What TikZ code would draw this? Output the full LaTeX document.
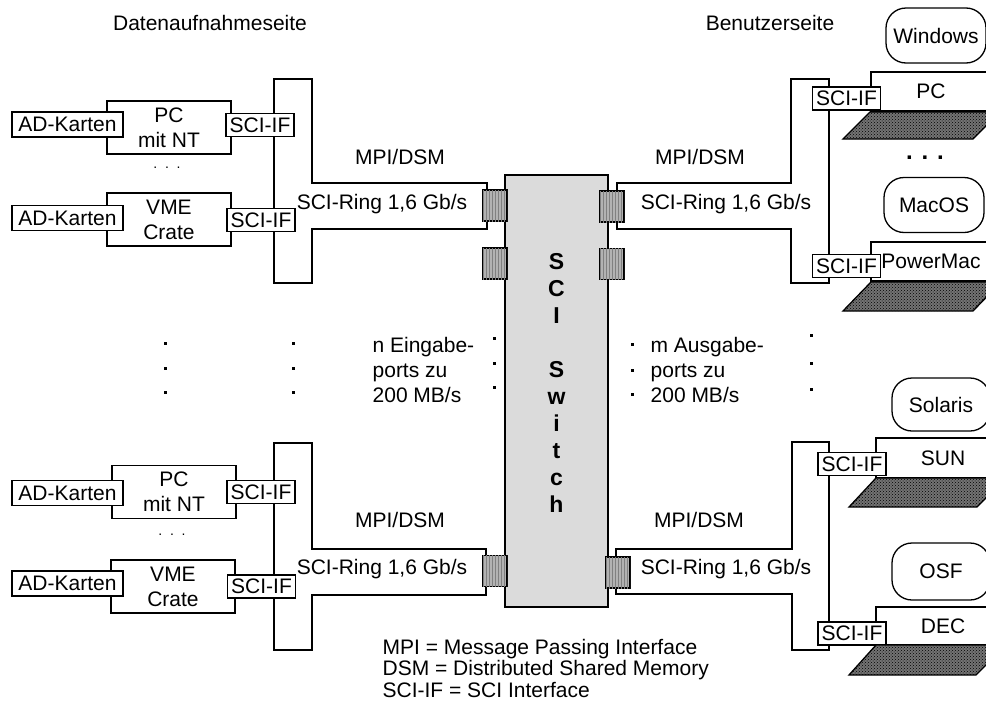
\documentclass[tikz,border=0pt]{standalone}
\usepackage{fontspec}
\setmainfont{Liberation Sans}
\usetikzlibrary{patterns}
\tikzset{
    adcard/.style={rectangle, draw, fill=white, minimum width=111pt, minimum height=25pt, inner sep=0pt},
    hostbox/.style={rectangle, draw, fill=white, minimum width=124pt, minimum height=53pt,
                    inner sep=0pt, align=center},
    sciif/.style={rectangle, draw, fill=white, minimum width=68pt, minimum height=23pt, inner sep=0pt},
    osbox/.style={rectangle, draw, fill=white, rounded corners=20pt, minimum width=100pt,
                  minimum height=55pt, inner sep=0pt},
    station/.style={rectangle, draw, fill=white, minimum width=120pt, minimum height=39pt, inner sep=0pt},
    ring/.style={draw, fill=white},
    port/.style={rectangle, draw, fill=black!30, minimum width=24pt, minimum height=31pt, inner sep=0pt,
                 postaction={pattern=vertical lines, pattern color=black!50}},
    switchbox/.style={rectangle, draw, fill=black!14, minimum width=103pt, minimum height=432pt, inner sep=0pt},
    desk/.style={draw, fill=black!55, postaction={pattern=crosshatch dots, pattern color=black}},
    lbl/.style={inner sep=0pt},
    multi/.style={inner sep=0pt, align=left, anchor=west},
    smalldots/.style={inner sep=0pt, font=\fontsize{14}{14}\selectfont},
}

\begin{document}
\begin{tikzpicture}[x=1pt, y=-1pt, line width=1.3pt,
                    font=\fontsize{21}{25}\selectfont]
    \clip (0,0) rectangle (986,718);

    % ── Headings ───────────────────────────────────────────────────
    \node[lbl] (hin)  at (210, 23) {Datenaufnahmeseite};
    \node[lbl] (hout) at (770, 23) {Benutzerseite};

    % ── SCI rings ──────────────────────────────────────────────────
    \draw[ring] (274,79) -- (312,79) -- (312,183) -- (487,183) -- (487,229)
        -- (312,229) -- (312,283) -- (274,283) -- cycle;
    \draw[ring] (829,79) -- (791,79) -- (791,183) -- (617,183) -- (617,229)
        -- (791,229) -- (791,283) -- (829,283) -- cycle;
    \draw[ring] (274,443) -- (312,443) -- (312,549) -- (486,549) -- (486,595)
        -- (312,595) -- (312,650) -- (274,650) -- cycle;
    \draw[ring] (829,442) -- (792,442) -- (792,549) -- (616,549) -- (616,594)
        -- (792,594) -- (792,650) -- (829,650) -- cycle;

    % ── Switch and ports ───────────────────────────────────────────
    \node[switchbox] (sw) at (556.5, 391) {};
    \node[lbl, font=\fontsize{23}{27}\selectfont\bfseries, align=center] (swtxt) at (556.5, 383)
        {S\\C\\I\\[27pt]S\\w\\i\\t\\c\\h};

    \node[port] (pl1) at (495, 205.5) {};
    \node[port] (pl2) at (495, 263.5) {};
    \node[port] (pl3) at (495, 571) {};
    \node[port] (pr1) at (612, 206.5) {};
    \node[port] (pr2) at (612, 264) {};
    \node[port] (pr3) at (618, 572.5) {};

    % ── Data acquisition side ──────────────────────────────────────
    \node[hostbox] (pc1)  at (169, 127.5) {PC\\mit NT};
    \node[hostbox] (vme1) at (169, 219.5) {VME\\Crate};
    \node[adcard]  (ad1)  at (67.5, 124.5) {AD-Karten};
    \node[adcard]  (ad2)  at (67.5, 218) {AD-Karten};
    \node[sciif]   (if1)  at (260, 125) {SCI-IF};
    \node[sciif]   (if2)  at (261, 220) {SCI-IF};
    \node[smalldots] (dl1) at (167, 168) {.\ \ .\ \ .};

    \node[hostbox] (pc2)  at (174, 492) {PC\\mit NT};
    \node[hostbox] (vme2) at (173, 586.5) {VME\\Crate};
    \node[adcard]  (ad3)  at (67.5, 493) {AD-Karten};
    \node[adcard]  (ad4)  at (67.5, 583.5) {AD-Karten};
    \node[sciif]   (if3)  at (261, 492) {SCI-IF};
    \node[sciif]   (if4)  at (261.5, 586.5) {SCI-IF};
    \node[smalldots] (dl2) at (172, 535) {.\ \ .\ \ .};

    % ── User side ──────────────────────────────────────────────────
    \node[osbox]   (win) at (936, 35.5) {Windows};
    \node[station] (st1) at (931, 91.5) {PC};
    \node[sciif]   (if5) at (846.5, 98.5) {SCI-IF};
    \draw[desk] (870,112) -- (1000,112) -- (973,139) -- (843,139) -- cycle;
    \node[lbl, font=\fontsize{24}{24}\selectfont\bfseries] (dr1) at (925, 158) {. . .};

    \node[osbox]   (mac) at (934, 205) {MacOS};
    \node[station] (st2) at (931, 261.5) {PowerMac};
    \node[sciif]   (if6) at (846.5, 266) {SCI-IF};
    \draw[desk] (871,282) -- (1001,282) -- (973,311) -- (843,311) -- cycle;

    \node[osbox, minimum width=98pt, minimum height=53pt] (sol) at (941, 404.5) {Solaris};
    \node[station, minimum width=134pt, minimum height=40pt] (st3) at (943, 458) {SUN};
    \node[sciif]   (if7) at (852, 464) {SCI-IF};
    \draw[desk] (876,478) -- (1006,478) -- (977,507) -- (849,507) -- cycle;

    \node[osbox, minimum width=98pt, minimum height=57pt] (osf) at (941, 571.5) {OSF};
    \node[station, minimum width=134pt, minimum height=38pt] (st4) at (943, 626) {DEC};
    \node[sciif]   (if8) at (852, 633.5) {SCI-IF};
    \draw[desk] (876,645) -- (1006,645) -- (976,675) -- (849,675) -- cycle;

    % ── Ring labels ────────────────────────────────────────────────
    \node[lbl] (m1) at (400, 157) {MPI/DSM};
    \node[lbl] (r1) at (382, 204) {SCI-Ring 1,6 Gb/s};
    \node[lbl] (m2) at (700, 157) {MPI/DSM};
    \node[lbl] (r2) at (726, 204) {SCI-Ring 1,6 Gb/s};
    \node[lbl] (m3) at (400, 520) {MPI/DSM};
    \node[lbl] (r3) at (382, 569) {SCI-Ring 1,6 Gb/s};
    \node[lbl] (m4) at (699, 520) {MPI/DSM};
    \node[lbl] (r4) at (726, 569) {SCI-Ring 1,6 Gb/s};

    % ── Port counts ────────────────────────────────────────────────
    \node[multi] (nin)  at (372, 370) {n Eingabe-\\ports zu\\200 MB/s};
    \node[multi] (mout) at (650, 370) {m Ausgabe-\\ports zu\\200 MB/s};
    \foreach \yy in {343, 368, 392} {
        \fill (163.5,\yy-1.5) rectangle ++(3,3);
        \fill (291.5,\yy-1.5) rectangle ++(3,3);
    }
    \foreach \yy in {338, 363, 387} \fill (492.5,\yy-1.5) rectangle ++(3,3);
    \foreach \yy in {344, 370, 394} \fill (630.5,\yy-1.5) rectangle ++(3,3);
    \foreach \yy in {335, 363, 389} \fill (809.5,\yy-1.5) rectangle ++(3,3);

    % ── Legend ─────────────────────────────────────────────────────
    \node[multi, font=\fontsize{21}{21.5}\selectfont] (legend) at (382, 668)
        {MPI = Message Passing Interface\\DSM = Distributed Shared Memory\\SCI-IF = SCI Interface};

\end{tikzpicture}
\end{document}
